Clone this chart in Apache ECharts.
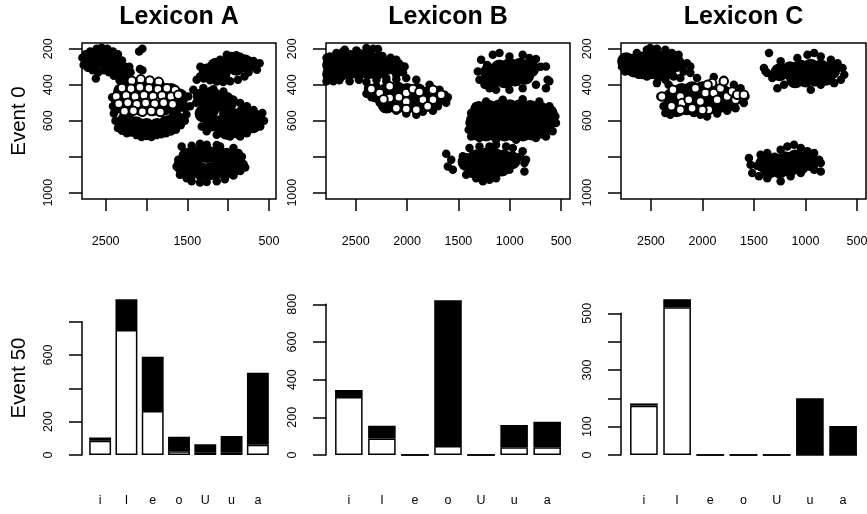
<!DOCTYPE html>
<html>
<head>
<meta charset="utf-8">
<title>Lexicon vowel spaces</title>
<style>
  html, body { margin: 0; padding: 0; background: #fff; }
  #chart { width: 867px; height: 514px; }
</style>
</head>
<body>
<div id="chart"></div>
<script src="https://cdn.jsdelivr.net/npm/echarts@6/dist/echarts.min.js"></script>
<script>
// vowel categories and counts at event 50 (white = lower segment, black = upper segment)
const vowels = ['i', 'I', 'e', 'o', 'U', 'u', 'a'];
const barWhiteA = [85, 750, 264, 22, 14, 14, 62];
const barBlackA = [20, 184, 326, 88, 50, 100, 432];
const barWhiteB = [308, 88, 0, 48, 0, 41, 41];
const barBlackB = [37, 67, 0, 774, 0, 118, 136];
const barWhiteC = [174, 521, 0, 0, 0, 0, 0];
const barBlackC = [8, 29, 0, 0, 0, 200, 102];

// tick marks and the labels R actually printed
const f2Ticks = [500, 1000, 1500, 2000, 2500];
const f2LabelsA = [500, 1500, 2500];
const f2LabelsBC = [500, 1000, 1500, 2000, 2500];
const f1Ticks = [200, 400, 600, 800, 1000];
const f1Labels = [200, 400, 600, 1000];
const barTicksAB = [0, 200, 400, 600, 800];
const barLabelsA = [0, 200, 600];
const barLabelsB = [0, 200, 400, 600, 800];
const barTicksC = [0, 100, 200, 300, 400, 500];
const barLabelsC = [0, 100, 300, 500];

// event 0 tokens, [F2, F1]; "core" = dense middle of a cloud
const aCore = [
  [2650, 270], [2540, 262], [2440, 275], [2360, 305], [2290, 340],
  [2250, 600], [2130, 625], [2000, 635], [1870, 635], [1750, 620], [1640, 595],
  [2330, 510], [2200, 520], [2060, 525], [1920, 525], [1780, 520], [1650, 515],
  [2300, 440], [2150, 425], [2000, 420], [1850, 425], [1700, 440], [1600, 470],
  [1150, 300], [1020, 290], [900, 300], [800, 280], [1250, 330], [1080, 340],
  [1320, 470], [1200, 460], [1100, 500], [1220, 540], [1000, 560], [880, 580], [760, 600], [950, 630], [1100, 620],
  [800, 560], [700, 620], [880, 650], [1020, 655], [1200, 610], [1300, 560], [650, 590], [1000, 500],
  [1500, 800], [1380, 790], [1260, 785], [1140, 790], [1020, 800], [920, 820],
  [1450, 870], [1330, 880], [1210, 880], [1090, 870], [970, 870], [1560, 850]
];
const aBlack = [
  [2785, 250], [2770, 290], [2745, 230], [2720, 305], [2700, 250], [2690, 215], [2660, 320], [2640, 230],
  [2620, 365], [2610, 200], [2590, 330], [2570, 215], [2550, 195], [2520, 320], [2505, 215], [2480, 200],
  [2460, 330], [2440, 225], [2410, 215], [2400, 350], [2380, 245], [2350, 230], [2330, 375], [2300, 265],
  [2280, 395], [2260, 300], [2230, 355], [2210, 300], [2195, 330], [2090, 215], [2050, 200], [2080, 312], [2050, 320],
  [2400, 560], [2380, 600], [2350, 640], [2300, 655], [2240, 670], [2180, 665], [2120, 680], [2060, 690],
  [2000, 685], [1940, 690], [1880, 680], [1820, 675], [1760, 670], [1700, 660], [1640, 650], [1580, 625],
  [1530, 600], [1510, 565], [1530, 530], [1550, 495], [1560, 460], [2420, 470], [2410, 520],
  [1385, 372], [1344, 354], [1340, 300], [1282, 326], [1180, 280], [1098, 261], [1016, 233], [960, 240],
  [900, 236], [852, 245], [790, 261], [729, 270], [688, 268], [614, 280], [700, 300], [647, 317],
  [749, 330], [800, 354], [880, 372], [975, 381], [1060, 385], [1140, 382], [1220, 375], [1300, 365],
  [1487, 465], [1467, 520], [1426, 428], [1390, 500], [1344, 576], [1323, 632], [1303, 418], [1262, 659],
  [1180, 425], [1139, 678], [1057, 437], [975, 687], [934, 483], [852, 687], [852, 502], [770, 669],
  [770, 520], [688, 641], [688, 540], [606, 632], [580, 557], [560, 600], [650, 570], [1000, 465], [1380, 450],
  [1631, 855], [1610, 817], [1590, 900], [1569, 743], [1508, 919], [1446, 739], [1446, 937], [1344, 728],
  [1344, 943], [1262, 733], [1262, 940], [1139, 735], [1139, 937], [1098, 743], [1040, 925], [934, 752],
  [934, 905], [872, 780], [850, 880], [831, 800], [811, 840], [790, 860]
];
const aWhite = [
  [2180, 378], [2070, 370], [1960, 376], [1850, 384],
  [2300, 418], [2190, 422], [2080, 414], [1970, 420], [1860, 425], [1750, 420], [1650, 430],
  [2370, 465], [2250, 460], [2140, 466], [2030, 458], [1920, 464], [1810, 460], [1700, 466], [1610, 455],
  [2340, 505], [2230, 500], [2120, 508], [2010, 502], [1900, 506], [1790, 500], [1680, 508],
  [2270, 548], [2160, 544], [2050, 550], [1940, 546], [1830, 552]
];

const bCore = [
  [2740, 290], [2740, 340], [2650, 265], [2650, 330], [2560, 255], [2560, 320], [2470, 250], [2470, 320],
  [2380, 255], [2380, 320], [2290, 270], [2290, 320], [2200, 295], [2110, 300],
  [2300, 450], [2200, 440], [2100, 430], [2000, 440], [1900, 440], [1800, 460],
  [2200, 510], [2100, 510], [2000, 510], [1900, 510], [1800, 500], [1700, 470],
  [1200, 330], [1100, 310], [1000, 300], [900, 300], [800, 310], [1050, 370], [950, 360], [850, 350], [1180, 380],
  [1300, 540], [1200, 535], [1100, 530], [1000, 530], [900, 530], [800, 535], [700, 545], [620, 560],
  [1340, 600], [1250, 600], [1160, 600], [1070, 600], [980, 600], [890, 600], [800, 600], [710, 600], [620, 600],
  [1320, 660], [1230, 665], [1140, 665], [1050, 665], [960, 665], [870, 665], [780, 660], [690, 650],
  [1420, 830], [1330, 810], [1240, 800], [1150, 800], [1060, 810], [980, 820],
  [1350, 870], [1260, 880], [1170, 870], [1080, 860]
];
const bBlack = [
  [2785, 250], [2785, 380], [2753, 243], [2720, 381], [2688, 224], [2660, 375], [2623, 215], [2607, 205],
  [2560, 380], [2494, 209], [2470, 372], [2396, 196], [2396, 385], [2330, 200], [2299, 372], [2283, 202],
  [2240, 240], [2202, 363], [2160, 250], [2105, 261], [2105, 344], [2060, 300], [2040, 330], [2024, 298],
  [2396, 450], [2380, 420], [2348, 470], [2299, 409], [2267, 500], [2202, 381], [2170, 530], [2105, 369],
  [2105, 545], [2008, 363], [2008, 560], [1910, 372], [1910, 567], [1846, 550], [1781, 400], [1748, 545],
  [1684, 428], [1700, 520], [1635, 456], [1619, 500], [1603, 470],
  [1311, 326], [1295, 372], [1279, 261], [1246, 400], [1198, 419], [1165, 233], [1133, 428], [1100, 224],
  [1003, 243], [1003, 428], [874, 233], [874, 419], [809, 252], [744, 257], [744, 400], [700, 300],
  [647, 298], [631, 372], [614, 381], [647, 419], [1220, 290],
  [1392, 613], [1376, 557], [1376, 687], [1327, 520], [1295, 696], [1230, 493], [1133, 706], [1068, 483],
  [938, 706], [874, 480], [744, 696], [712, 493], [647, 687], [614, 520], [582, 659], [556, 576], [550, 613], [1400, 650],
  [1619, 783], [1570, 817], [1603, 854], [1554, 872], [1457, 798], [1424, 900], [1392, 752], [1327, 919],
  [1295, 743], [1262, 937], [1198, 743], [1198, 928], [1133, 733], [1133, 919], [1035, 743], [1003, 872],
  [970, 752], [900, 800], [874, 770], [857, 835], [841, 817], [857, 882]
];
const bWhite = [
  [2348, 424], [2267, 446], [2170, 409], [2170, 474], [2105, 530], [2008, 446], [2008, 493], [2008, 535],
  [1943, 424], [1910, 539], [1846, 483], [1748, 428], [1748, 483], [1667, 456], [2230, 480], [2080, 470],
  [1880, 440], [1800, 520]
];

const cCore = [
  [2740, 270], [2660, 275], [2580, 265], [2500, 255], [2420, 260], [2340, 265], [2260, 280],
  [2580, 320], [2500, 320], [2420, 330], [2340, 320], [2660, 310],
  [2300, 470], [2200, 440], [2100, 430], [2000, 430], [1900, 440], [1800, 450], [1700, 470],
  [2250, 530], [2150, 520], [2050, 520], [1950, 520], [1850, 510], [1750, 500],
  [1250, 330], [1150, 320], [1050, 310], [950, 305], [850, 310], [750, 320],
  [1100, 370], [1000, 365], [900, 360], [800, 355],
  [1400, 840], [1300, 830], [1200, 820], [1100, 810], [1000, 820], [1250, 870],
  [1150, 860], [1050, 850], [950, 830], [1350, 870]
];
const cBlack = [
  [2799, 206], [2799, 260], [2780, 300], [2750, 326], [2701, 252], [2636, 224], [2620, 344], [2539, 206],
  [2539, 354], [2506, 196], [2442, 391], [2442, 200], [2360, 206], [2360, 372], [2296, 224], [2279, 354],
  [2231, 233], [2182, 326], [2150, 280], [2117, 298], [2200, 300],
  [2409, 465], [2377, 520], [2360, 557], [2328, 400], [2312, 567], [2214, 363], [2214, 548], [2117, 335],
  [2085, 557], [2052, 363], [2020, 567], [1955, 576], [1890, 357], [1857, 560], [1793, 372], [1760, 545],
  [1695, 400], [1679, 530], [1630, 419], [1598, 502], [1582, 465],
  [1354, 224], [1403, 307], [1387, 326], [1371, 335], [1322, 363], [1273, 419], [1241, 270], [1208, 400],
  [1079, 252], [981, 233], [949, 428], [916, 224], [852, 243], [852, 400], [754, 261], [722, 391],
  [689, 280], [657, 372], [641, 307], [624, 344],
  [1549, 807], [1533, 844], [1517, 891], [1452, 909], [1436, 789], [1371, 780], [1371, 919], [1300, 800],
  [1241, 761], [1241, 937], [1176, 743], [1176, 880], [1144, 909], [1111, 733], [1080, 860], [1046, 752],
  [1046, 891], [981, 770], [950, 850], [916, 780], [916, 872], [868, 817], [852, 835], [852, 882],
  [1330, 890], [1470, 850]
];
const cWhite = [
  [2393, 465], [2286, 428], [2214, 465], [2198, 502], [2133, 483], [2068, 419], [2020, 493], [1971, 446],
  [1939, 539], [1906, 391], [1890, 446], [1857, 483], [1825, 419], [1793, 381], [1760, 465], [1711, 437],
  [1679, 483], [1663, 456], [1598, 456], [2214, 539], [2100, 530], [2000, 540], [1950, 400], [2300, 520]
];

const F2_RANGE = [413, 2790];
const F1_RANGE = [168, 1035];
const FONT = "'Liberation Sans', Arial, Helvetica, sans-serif";
const INK = '#000';
const LINE = { color: INK, width: 1.5 };
const plain = v => String(v);

function scatterX(gridIndex, labels) {
  return {
    type: 'value', gridIndex, inverse: true, min: F2_RANGE[0], max: F2_RANGE[1],
    axisLine: { show: false },
    axisTick: { show: true, length: 12, customValues: f2Ticks, lineStyle: LINE },
    axisLabel: { customValues: labels, formatter: plain, margin: 36, fontSize: 12.5, color: INK, fontFamily: FONT },
    splitLine: { show: false }
  };
}

function scatterY(gridIndex) {
  return {
    type: 'value', gridIndex, inverse: true, min: F1_RANGE[0], max: F1_RANGE[1],
    axisLine: { show: false },
    axisTick: { show: true, length: 13, customValues: f1Ticks, lineStyle: LINE },
    axisLabel: { customValues: f1Labels, formatter: plain, rotate: 90, margin: 27, fontSize: 12.5, color: INK, fontFamily: FONT },
    splitLine: { show: false }
  };
}

function barX(gridIndex) {
  return {
    type: 'category', gridIndex, data: vowels,
    axisLine: { show: false }, axisTick: { show: false },
    axisLabel: { margin: 39, fontSize: 12.5, color: INK, fontFamily: FONT }
  };
}

function barY(gridIndex, max, interval, ticks, labels, offset) {
  return {
    type: 'value', gridIndex, min: 0, max, interval, offset,
    axisLine: { show: true, lineStyle: LINE },
    axisTick: { show: true, length: 13, customValues: ticks, lineStyle: LINE },
    axisLabel: { customValues: labels, formatter: plain, rotate: 90, margin: 27, fontSize: 12.5, color: INK, fontFamily: FONT },
    splitLine: { show: false }
  };
}

function dots(xi, data, size, white) {
  return {
    type: 'scatter', xAxisIndex: xi, yAxisIndex: xi, data, symbol: 'circle', symbolSize: size,
    silent: true,
    itemStyle: white
      ? { color: '#fff', borderColor: INK, borderWidth: 2, opacity: 1 }
      : { color: INK, opacity: 1 }
  };
}

function bars(xi, data, fill, stack) {
  return {
    type: 'bar', xAxisIndex: xi, yAxisIndex: xi, data, stack, clip: false,
    barCategoryGap: '16.7%', silent: true,
    itemStyle: { color: fill, borderColor: INK, borderWidth: 1.5 }
  };
}

function label(text, x, y, size, bold, vertical) {
  return {
    type: 'text', x, y, rotation: vertical ? Math.PI / 2 : 0,
    style: {
      text, fill: INK, fontSize: size, fontWeight: bold ? 'bold' : 'normal', fontFamily: FONT,
      align: 'center', verticalAlign: 'middle', textAlign: 'center', textVerticalAlign: 'middle'
    }
  };
}

function box(left, top, width, height, framed) {
  return {
    left, top, width, height, outerBoundsMode: 'none', containLabel: false,
    show: !!framed, borderColor: INK, borderWidth: 1.5, backgroundColor: 'transparent'
  };
}

const chart = echarts.init(document.getElementById('chart'), null, { renderer: 'canvas' });

chart.setOption({
  animation: false,
  backgroundColor: '#fff',
  grid: [
    box(82, 43, 194, 156, true),
    box(326, 43, 244, 156, true),
    box(621, 43, 245, 156, true),
    box(87, 321.7, 184, 133.3),
    box(332.3, 304.3, 231.4, 150.7),
    box(627.3, 313.3, 232.4, 141.7)
  ],
  xAxis: [
    scatterX(0, f2LabelsA), scatterX(1, f2LabelsBC), scatterX(2, f2LabelsBC),
    barX(3), barX(4), barX(5)
  ],
  yAxis: [
    scatterY(0), scatterY(1), scatterY(2),
    barY(3, 800, 200, barTicksAB, barLabelsA, 5),
    barY(4, 800, 200, barTicksAB, barLabelsB, 6.3),
    barY(5, 500, 100, barTicksC, barLabelsC, 6.3)
  ],
  series: [
    dots(0, aCore, 18), dots(0, aBlack, 8.5), dots(0, aWhite, 8.5, true),
    dots(1, bCore, 18), dots(1, bBlack, 8.5), dots(1, bWhite, 8.5, true),
    dots(2, cCore, 18), dots(2, cBlack, 8.5), dots(2, cWhite, 8.5, true),
    bars(3, barWhiteA, '#fff', 'A'), bars(3, barBlackA, INK, 'A'),
    bars(4, barWhiteB, '#fff', 'B'), bars(4, barBlackB, INK, 'B'),
    bars(5, barWhiteC, '#fff', 'C'), bars(5, barBlackC, INK, 'C')
  ],
  graphic: [
    label('Lexicon A', 179, 17.5, 25, true),
    label('Lexicon B', 448, 17.5, 25, true),
    label('Lexicon C', 743.5, 17.5, 25, true),
    label('Event 0', 19.5, 121, 20.5, false, true),
    label('Event 50', 19.5, 378, 20.5, false, true)
  ]
});
</script>
</body>
</html>
